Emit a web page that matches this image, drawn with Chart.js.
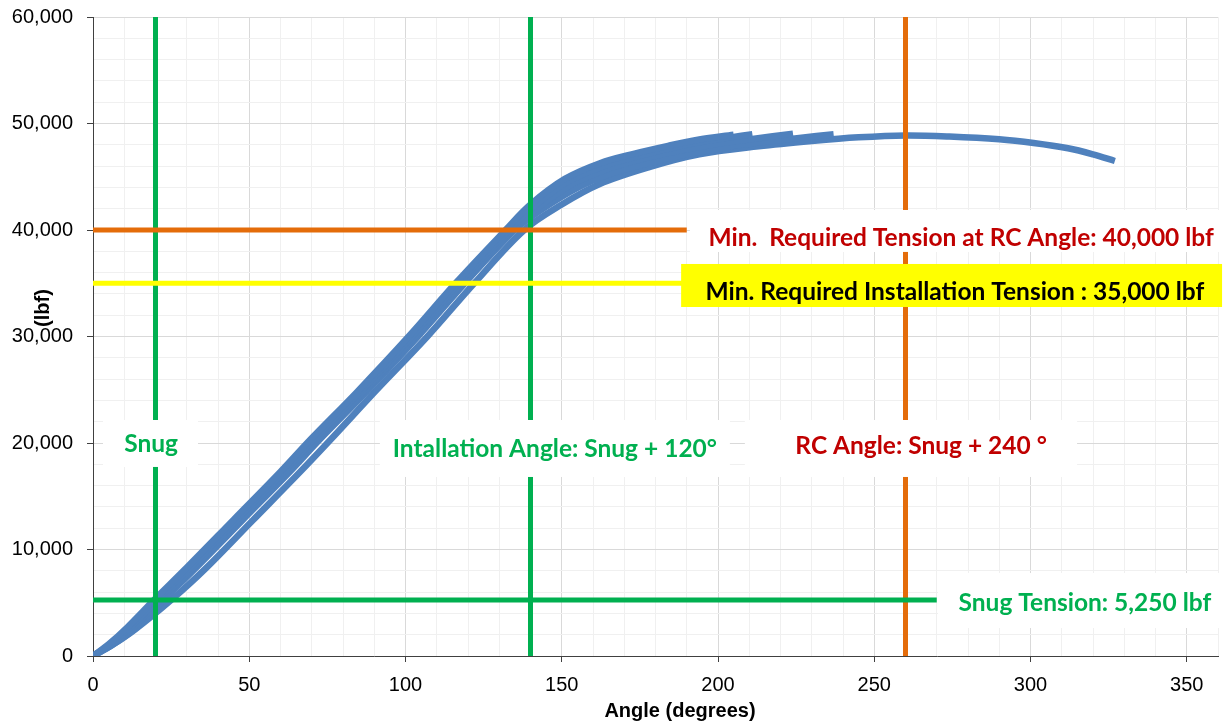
<!DOCTYPE html>
<html><head><meta charset="utf-8">
<script src="https://cdn.jsdelivr.net/npm/chart.js@4.4.1/dist/chart.umd.min.js"></script>
<style>html,body{margin:0;padding:0;background:#fff}#wrap{width:1224px;height:727px;position:relative}</style>
</head><body><div id="wrap"><canvas id="c" width="1224" height="727"></canvas></div>
<script>
// ---- data (angle in degrees, tension in lbf) ----
const cycle1Angle   = [0, 5, 11, 19.5, 30, 45, 60, 69.5, 84.5, 101, 116, 132, 140, 151, 162, 173, 184, 194, 205];
const cycle1Tension = [0, 1100, 2700, 5250, 8300, 12800, 17300, 20300, 24800, 30000, 35000, 40000, 42400, 44800, 46250, 47150, 47900, 48500, 48950];
const cycle2Angle   = [0, 5.5, 12, 20.5, 31, 46, 61, 70.5, 85.5, 102, 117, 133, 141, 152, 163, 174, 185, 196, 204, 211];
const cycle2Tension = [0, 1100, 2700, 5250, 8300, 12800, 17300, 20300, 24800, 30000, 35000, 40000, 42200, 44550, 45950, 46900, 47700, 48350, 48700, 49000];
const cycle3Angle   = [0, 6, 13, 21.5, 32, 47, 62, 71.5, 86.5, 103, 118, 134, 142, 153, 164, 175, 187, 199, 211, 224];
const cycle3Tension = [0, 1100, 2700, 5250, 8300, 12800, 17300, 20300, 24800, 30000, 35000, 40000, 42000, 44250, 45650, 46600, 47400, 48050, 48550, 49050];
const cycle4Angle   = [0, 6.5, 14, 22.5, 33, 48, 63, 72.5, 87.5, 104, 119, 135, 143, 155, 166, 178, 190, 202, 214, 226, 237];
const cycle4Tension = [0, 1100, 2700, 5250, 8300, 12800, 17300, 20300, 24800, 30000, 35000, 40000, 41800, 43950, 45300, 46300, 47100, 47750, 48250, 48650, 49000];
const cycle5Angle   = [0, 6, 13.5, 25, 36, 51, 66, 76, 90.5, 107, 122, 138, 150, 162, 178, 194, 213, 230, 245, 260, 274, 290, 301, 312, 320, 327];
const cycle5Tension = [0, 1000, 2500, 5250, 8200, 12700, 17200, 20300, 24900, 30000, 35000, 40000, 42400, 44300, 45900, 47100, 47850, 48350, 48700, 48880, 48780, 48520, 48170, 47670, 47100, 46480];

const snugAngle = 20, installAngle = 140, rcAngle = 260;
const snugTension = 5250, installTension = 35000, rcTension = 40000;
const tensionLineEnd = 190, snugLineEnd = 270;
const xRange = [0, 360], yRange = [0, 60000];
const xTickLabels = [0, 50, 100, 150, 200, 250, 300, 350];
const yTickLabels = [0, 10000, 20000, 30000, 40000, 50000, 60000];

const toPts = (xs, ys) => xs.map((x, i) => ({x: x, y: ys[i]}));

const BLUE = '#4F81BD', GREEN = '#00B050', ORANGE = '#E46C0A', YELLOW = '#FFFF00', DARKRED = '#C00000';

const curve = (xs, ys) => ({data: toPts(xs, ys), borderColor: BLUE, borderWidth: 6.5, pointRadius: 0,
  showLine: true, tension: 0.35, borderJoinStyle: 'round', order: 2});
const refLine = (pts, color) => ({data: pts, borderColor: color, borderWidth: 5, pointRadius: 0, showLine: true, order: 1, borderCapStyle: 'butt'});

const datasets = [
  curve(cycle1Angle, cycle1Tension),
  curve(cycle2Angle, cycle2Tension),
  curve(cycle3Angle, cycle3Tension),
  curve(cycle4Angle, cycle4Tension),
  curve(cycle5Angle, cycle5Tension),
  refLine([{x: 0, y: rcTension}, {x: tensionLineEnd, y: rcTension}], ORANGE),
  refLine([{x: 0, y: installTension}, {x: tensionLineEnd, y: installTension}], YELLOW),
  refLine([{x: 0, y: snugTension}, {x: snugLineEnd, y: snugTension}], GREEN),
  refLine([{x: snugAngle, y: yRange[0]}, {x: snugAngle, y: yRange[1]}], GREEN),
  refLine([{x: installAngle, y: yRange[0]}, {x: installAngle, y: yRange[1]}], GREEN),
  refLine([{x: rcAngle, y: yRange[0]}, {x: rcAngle, y: yRange[1]}], ORANGE)
];

// annotation boxes in data units: [x0, x1, yTop, yBottom], text anchor [x, y]
const notes = [
  {text: 'Snug', color: GREEN, bg: '#FFFFFF', box: [3.2, 33.6, 22160, 17750], at: [18.6, 19900]},
  {text: 'Intallation Angle: Snug + 120\u00B0', color: GREEN, bg: '#FFFFFF', box: [91.8, 203.8, 22160, 16810], at: [147.8, 19440]},
  {text: 'RC Angle: Snug + 240 \u00B0', color: DARKRED, bg: '#FFFFFF', box: [208.6, 314.9, 22160, 16810], at: [265, 19720]},
  {text: 'Min.  Required Tension at RC Angle: 40,000 lbf', color: DARKRED, bg: '#FFFFFF', box: [191, 362, 41880, 37940], at: [277.8, 39250]},
  {text: 'Min. Required Installation Tension : 35,000 lbf', color: '#000000', bg: YELLOW, box: [188.2, 361.3, 36810, 32770], at: [275.8, 34180]},
  {text: 'Snug Tension: 5,250 lbf', color: GREEN, bg: '#FFFFFF', box: [270.4, 361.3, 7790, 2630], at: [317.4, 4980]}
];

const notePlugin = {
  id: 'notes',
  afterDatasetsDraw(chart) {
    const c = chart.ctx, xs = chart.scales.x, ys = chart.scales.y;
    c.save();
    notes.forEach(n => {
      const x0 = xs.getPixelForValue(n.box[0]), x1 = xs.getPixelForValue(n.box[1]);
      const y0 = ys.getPixelForValue(n.box[2]), y1 = ys.getPixelForValue(n.box[3]);
      c.fillStyle = n.bg;
      c.fillRect(x0, y0, x1 - x0, y1 - y0);
      c.fillStyle = n.color;
      c.font = 'bold 24.5px Lato';
      c.textAlign = 'center';
      c.textBaseline = 'middle';
      c.fillText(n.text, xs.getPixelForValue(n.at[0]), ys.getPixelForValue(n.at[1]));
    });
    c.restore();
  },
  afterDraw(chart) {
    const c = chart.ctx;
    c.save();
    c.fillStyle = '#000';
    c.font = 'bold 20px "Liberation Sans"';
    c.textAlign = 'center';
    c.textBaseline = 'middle';
    c.fillText('Angle (degrees)', 680, 711);
    c.translate(43, 308);
    c.rotate(-Math.PI / 2);
    c.fillText('(lbf)', 0, 0);
    c.restore();
  }
};

const isMajor = (list, v) => list.some(t => Math.abs(t - v) < 1e-6);

new Chart(document.getElementById('c'), {
  type: 'scatter',
  data: {datasets: datasets},
  options: {
    responsive: false,
    animation: false,
    layout: {autoPadding: false, padding: {top: 17, right: 6, left: 0, bottom: 0}},
    plugins: {legend: {display: false}, tooltip: {enabled: false}},
    scales: {
      x: {
        type: 'linear', min: xRange[0], max: xRange[1],
        afterFit(s) { s.height = 71; s.paddingLeft = 0; s.paddingRight = 0; },
        ticks: {stepSize: 10, autoSkip: false, maxRotation: 0, padding: 11, color: '#000',
          font: {family: '"Liberation Sans"', size: 20},
          callback: v => isMajor(xTickLabels, v) ? String(v) : ''},
        grid: {
          color: ctx => (ctx.tick && isMajor(xTickLabels, ctx.tick.value)) ? '#D9D9D9' : '#F0F0F0',
          tickColor: ctx => (ctx.tick && isMajor(xTickLabels, ctx.tick.value)) ? '#404040' : 'rgba(0,0,0,0)',
          tickLength: 6, lineWidth: 1
        },
        border: {color: '#404040', width: 1}
      },
      y: {
        type: 'linear', min: yRange[0], max: yRange[1],
        afterFit(s) { s.width = 93; s.paddingTop = 0; s.paddingBottom = 0; },
        ticks: {stepSize: 2000, autoSkip: false, padding: 14, color: '#000',
          font: {family: '"Liberation Sans"', size: 20},
          callback: v => isMajor(yTickLabels, v) ? v.toLocaleString('en-US') : ''},
        grid: {
          color: ctx => (ctx.tick && isMajor(yTickLabels, ctx.tick.value)) ? '#D9D9D9' : '#F0F0F0',
          tickColor: ctx => (ctx.tick && isMajor(yTickLabels, ctx.tick.value)) ? '#404040' : 'rgba(0,0,0,0)',
          tickLength: 6, lineWidth: 1
        },
        border: {color: '#404040', width: 1}
      }
    }
  },
  plugins: [notePlugin]
});
</script>
</body></html>
